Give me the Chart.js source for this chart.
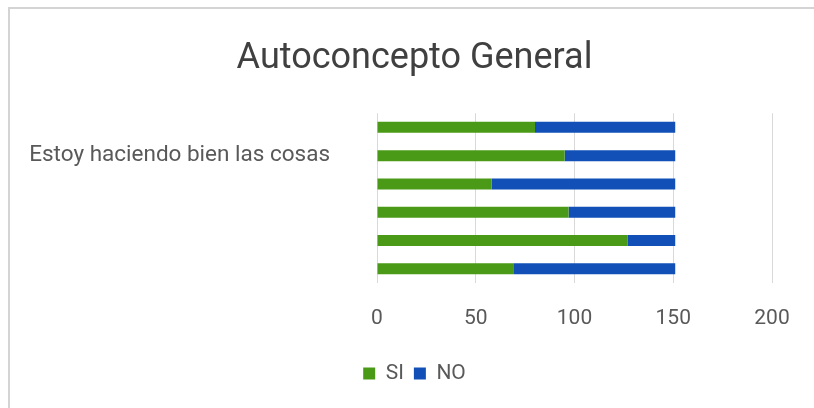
<!DOCTYPE html>
<html>
<head>
<meta charset="utf-8">
<script src="https://cdn.jsdelivr.net/npm/chart.js@4/dist/chart.umd.min.js"></script>
<style>
  html, body { margin: 0; padding: 0; background: #ffffff; overflow: hidden; }
  #frame {
    position: absolute; left: 8px; top: 7px; width: 900px; height: 500px;
    border-left: 2px solid #d4d4d4; border-top: 2px solid #d4d4d4;
  }
  #wrap { position: absolute; left: 0; top: 0; width: 814px; height: 408px; }
</style>
</head>
<body>
<div id="frame"></div>
<div id="wrap"><canvas id="chart" width="814" height="408"></canvas></div>
<script>
// Categories, top to bottom (only one label is printed on the axis)
const categories = ['', 'Estoy haciendo bien las cosas', '', '', '', ''];
const siValues = [80, 95, 58, 97, 127, 69];
const noValues = [71, 56, 93, 54, 24, 82];
const xTicks = [0, 50, 100, 150, 200];

const FONT = "Roboto, 'Open Sans', sans-serif";

new Chart(document.getElementById('chart'), {
  type: 'bar',
  data: {
    labels: categories,
    datasets: [
      { label: 'SI', data: siValues, backgroundColor: '#4b9a17', borderWidth: 0 },
      { label: 'NO', data: noValues, backgroundColor: '#1250b7', borderWidth: 0 }
    ]
  },
  options: {
    indexAxis: 'y',
    responsive: false,
    animation: false,
    events: [],
    layout: { padding: { left: 15, right: 0, top: 0, bottom: 14 } },
    barPercentage: 0.78,
    categoryPercentage: 0.5,
    scales: {
      x: {
        stacked: true,
        min: 0, max: 200,
        afterBuildTicks: (s) => { s.ticks = xTicks.map(v => ({ value: v })); },
        grid: { color: '#d9d9d9', lineWidth: 1, drawTicks: false },
        border: { display: false },
        ticks: { color: '#595959', padding: 23, font: { family: FONT, size: 21 } },
        afterFit: (s) => { s.height = 70; }
      },
      y: {
        stacked: true,
        grid: { display: false, drawTicks: false },
        border: { display: false },
        ticks: { color: '#595959', padding: 47, autoSkip: false, font: { family: FONT, size: 22.5 } },
        afterFit: (s) => { s.width = 362; }
      },
      // empty right-hand margin of the plot
      yRight: {
        type: 'category',
        position: 'right',
        grid: { display: false, drawTicks: false },
        border: { display: false },
        ticks: { display: false },
        afterFit: (s) => { s.width = 42; }
      }
    },
    plugins: {
      title: {
        display: true,
        text: 'Autoconcepto General',
        color: '#404040',
        font: { family: FONT, size: 36, weight: 'normal', lineHeight: 1.2 },
        padding: { top: 37, bottom: 33 }
      },
      legend: {
        position: 'bottom',
        labels: {
          color: '#595959',
          font: { family: FONT, size: 21 },
          boxWidth: 12, boxHeight: 12,
          padding: 10
        }
      },
      tooltip: { enabled: false }
    }
  }
});
</script>
</body>
</html>
